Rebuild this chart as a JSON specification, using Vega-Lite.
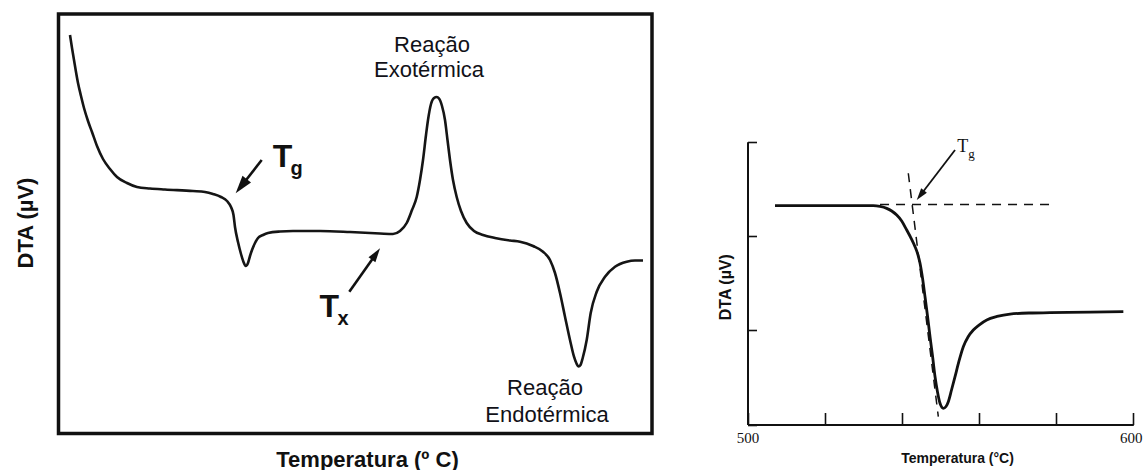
{
  "$schema": "https://vega.github.io/schema/vega-lite/v6.json",
  "width": 1086,
  "height": 420,
  "autosize": "none",
  "padding": {"left": 57, "top": 13, "right": 0, "bottom": 37},
  "background": "white",
  "config": {"view": {"stroke": null}, "axis": {"grid": false}},
  "datasets": {
    "lc": [
      {"x": 13, "y": 398}, {"x": 15, "y": 385}, {"x": 17, "y": 373}, {"x": 19, "y": 361}, {"x": 21, "y": 350},
      {"x": 24, "y": 337}, {"x": 27, "y": 325}, {"x": 31, "y": 312}, {"x": 35, "y": 301}, {"x": 40, "y": 287},
      {"x": 46, "y": 274}, {"x": 53, "y": 264}, {"x": 60, "y": 256}, {"x": 70, "y": 250}, {"x": 80, "y": 246},
      {"x": 93, "y": 244.5}, {"x": 108, "y": 243.5}, {"x": 136, "y": 242}, {"x": 148, "y": 241}, {"x": 156, "y": 239},
      {"x": 164, "y": 236}, {"x": 170, "y": 232}, {"x": 174, "y": 226}, {"x": 176.5, "y": 218}, {"x": 178, "y": 206},
      {"x": 181, "y": 191}, {"x": 184, "y": 179}, {"x": 186.5, "y": 171}, {"x": 188.7, "y": 167}, {"x": 191, "y": 170},
      {"x": 193, "y": 177}, {"x": 195, "y": 183}, {"x": 198, "y": 190}, {"x": 201, "y": 195}, {"x": 206, "y": 198},
      {"x": 211, "y": 200}, {"x": 223, "y": 201.5}, {"x": 236, "y": 202}, {"x": 263, "y": 202}, {"x": 293, "y": 201},
      {"x": 323, "y": 199.5}, {"x": 336, "y": 199}, {"x": 343, "y": 202}, {"x": 349.7, "y": 210}, {"x": 355, "y": 223},
      {"x": 359.7, "y": 236}, {"x": 363, "y": 253}, {"x": 366, "y": 273}, {"x": 369, "y": 298}, {"x": 371, "y": 313},
      {"x": 374, "y": 329}, {"x": 377, "y": 335}, {"x": 379.7, "y": 336}, {"x": 382, "y": 334.5}, {"x": 385, "y": 327},
      {"x": 388, "y": 313}, {"x": 390.5, "y": 293}, {"x": 393, "y": 273}, {"x": 396, "y": 253}, {"x": 399.7, "y": 236},
      {"x": 404, "y": 222}, {"x": 409.7, "y": 210}, {"x": 417, "y": 202}, {"x": 426, "y": 198}, {"x": 438, "y": 195},
      {"x": 453, "y": 192.5}, {"x": 463, "y": 191.3}, {"x": 476, "y": 187}, {"x": 486, "y": 181.3}, {"x": 493, "y": 173},
      {"x": 498, "y": 160}, {"x": 503, "y": 140}, {"x": 508, "y": 116.3}, {"x": 513, "y": 93}, {"x": 517, "y": 76.3},
      {"x": 519.5, "y": 69.5}, {"x": 521.5, "y": 66.5}, {"x": 523.5, "y": 68}, {"x": 525.7, "y": 75}, {"x": 529.7, "y": 93},
      {"x": 533.7, "y": 120}, {"x": 539.7, "y": 141.3}, {"x": 548, "y": 156.3}, {"x": 558, "y": 166.3}, {"x": 569.7, "y": 171.3},
      {"x": 578, "y": 172.5}, {"x": 586, "y": 172.5}
    ],
    "lf": [{"x": 1.5, "x2": 595, "y": -0.5, "y2": 419}],
    "la": [
      {"name": "Tg", "x": 204.7, "y": 273, "x2": 184.2, "y2": 246.8},
      {"name": "Tx", "x": 292.3, "y": 141.3, "x2": 319, "y2": 179}
    ],
    "lh": [
      {"name": "Tg", "x": 184.2, "y": 246.8},
      {"name": "Tx", "x": 319, "y": 179}
    ],
    "lt": [
      {"kind": "main", "text": "T", "x": 215.7, "y": 266},
      {"kind": "sub", "text": "g", "x": 233.5, "y": 258},
      {"kind": "main", "text": "T", "x": 262.5, "y": 116},
      {"kind": "sub", "text": "x", "x": 280.5, "y": 108},
      {"kind": "note", "text": "Reação", "x": 375, "y": 381.5},
      {"kind": "note", "text": "Exotérmica", "x": 372, "y": 356},
      {"kind": "note", "text": "Reação", "x": 488, "y": 38},
      {"kind": "note", "text": "Endotérmica", "x": 490, "y": 11.5}
    ],
    "rc": [
      {"x": 507.13, "y": 2.321}, {"x": 521.4, "y": 2.321}, {"x": 532.6, "y": 2.321}, {"x": 534.35, "y": 2.313},
      {"x": 536.08, "y": 2.293}, {"x": 537.38, "y": 2.265}, {"x": 538.68, "y": 2.222}, {"x": 539.97, "y": 2.159},
      {"x": 541.27, "y": 2.063}, {"x": 542.38, "y": 1.978}, {"x": 543.42, "y": 1.886}, {"x": 544.2, "y": 1.798},
      {"x": 544.72, "y": 1.71}, {"x": 545.36, "y": 1.554}, {"x": 546.01, "y": 1.356}, {"x": 546.66, "y": 1.151},
      {"x": 547.31, "y": 0.931}, {"x": 547.96, "y": 0.727}, {"x": 548.61, "y": 0.507}, {"x": 549.25, "y": 0.345},
      {"x": 549.9, "y": 0.225}, {"x": 550.76, "y": 0.172}, {"x": 551.46, "y": 0.191}, {"x": 552.05, "y": 0.242},
      {"x": 552.88, "y": 0.366}, {"x": 553.79, "y": 0.507}, {"x": 554.83, "y": 0.674}, {"x": 555.94, "y": 0.825},
      {"x": 557.16, "y": 0.928}, {"x": 558.53, "y": 1.002}, {"x": 560.01, "y": 1.055}, {"x": 562.01, "y": 1.109},
      {"x": 564.68, "y": 1.146}, {"x": 568.05, "y": 1.172}, {"x": 573.23, "y": 1.183}, {"x": 578.42, "y": 1.186},
      {"x": 588.79, "y": 1.193}, {"x": 597.42, "y": 1.197}
    ],
    "rd": [
      {"x": 534.35, "y": 2.334, "x2": 578.86, "y2": 2.334},
      {"x": 541.68, "y": 2.665, "x2": 549.46, "y2": 0.083}
    ],
    "ra": [{"x": 553.79, "y": 2.912, "x2": 544.81, "y2": 2.432}],
    "rh": [{"x": 544.81, "y": 2.432}],
    "rt": [
      {"kind": "main", "text": "T", "x": 554.39, "y": 2.887},
      {"kind": "sub", "text": "g", "x": 557.24, "y": 2.827}
    ]
  },
  "layer": [
    {
      "encoding": {
        "x": {
          "field": "x", "type": "quantitative",
          "scale": {"domain": [0, 596], "range": [0, 596], "nice": false, "zero": false},
          "axis": {
            "orient": "bottom", "title": "Temperatura (º C)", "domain": false, "ticks": false, "labels": false, "grid": false,
            "titleX": 310, "titleY": 26, "titleAlign": "center", "titleBaseline": "middle", "titleAngle": 0,
            "titleFont": "Liberation Sans", "titleFontSize": 22, "titleFontWeight": "bold", "titleColor": "#111111"
          }
        },
        "y": {
          "field": "y", "type": "quantitative",
          "scale": {"domain": [0, 420], "range": [420, 0], "nice": false, "zero": false},
          "axis": {
            "orient": "left", "title": "DTA (µV)", "domain": false, "ticks": false, "labels": false, "grid": false,
            "titleX": -31.5, "titleY": 209.5, "titleAlign": "center", "titleBaseline": "middle", "titleAngle": 270,
            "titleFont": "Liberation Sans", "titleFontSize": 22, "titleFontWeight": "bold", "titleColor": "#111111"
          }
        }
      },
      "layer": [
        {
          "data": {"name": "lf"},
          "mark": {"type": "rect", "fillOpacity": 0, "stroke": "#111111", "strokeWidth": 3.5},
          "encoding": {"x2": {"field": "x2"}, "y2": {"field": "y2"}}
        },
        {
          "data": {"name": "lc"},
          "mark": {"type": "line", "interpolate": "monotone", "color": "#151515", "strokeWidth": 2.6}
        },
        {
          "data": {"name": "la"},
          "mark": {"type": "rule", "color": "#111111", "strokeWidth": 2.6},
          "encoding": {"x2": {"field": "x2"}, "y2": {"field": "y2"}}
        },
        {
          "data": {"name": "lh"},
          "transform": [{"filter": "datum.name == 'Tg'"}],
          "mark": {"type": "point", "shape": "M0,-1L0.6,1L-0.6,1Z", "filled": true, "opacity": 1, "color": "#111111", "size": 324, "angle": 218}
        },
        {
          "data": {"name": "lh"},
          "transform": [{"filter": "datum.name == 'Tx'"}],
          "mark": {"type": "point", "shape": "M0,-1L0.6,1L-0.6,1Z", "filled": true, "opacity": 1, "color": "#111111", "size": 196, "angle": 35.3}
        },
        {
          "data": {"name": "lt"},
          "transform": [{"filter": "datum.kind == 'main'"}],
          "mark": {"type": "text", "align": "left", "baseline": "alphabetic", "font": "Liberation Sans", "fontSize": 32, "fontWeight": "bold", "color": "#111111"},
          "encoding": {"text": {"field": "text"}}
        },
        {
          "data": {"name": "lt"},
          "transform": [{"filter": "datum.kind == 'sub'"}],
          "mark": {"type": "text", "align": "left", "baseline": "alphabetic", "font": "Liberation Sans", "fontSize": 20, "fontWeight": "bold", "color": "#111111"},
          "encoding": {"text": {"field": "text"}}
        },
        {
          "data": {"name": "lt"},
          "transform": [{"filter": "datum.kind == 'note'"}],
          "mark": {"type": "text", "align": "center", "baseline": "alphabetic", "font": "Liberation Sans", "fontSize": 22, "color": "#111118"},
          "encoding": {"text": {"field": "text"}}
        }
      ]
    },
    {
      "encoding": {
        "x": {
          "field": "x", "type": "quantitative",
          "scale": {"domain": [500, 600], "range": [690.5, 1076.3], "nice": false, "zero": false},
          "axis": {
            "orient": "bottom", "offset": -8.5, "values": [500, 520, 540, 560, 580, 600],
            "domainColor": "#111111", "domainWidth": 2, "tickColor": "#111111", "tickWidth": 1.6, "tickSize": -12,
            "labelExpr": "datum.value == 500 || datum.value == 600 ? datum.label : ''",
            "labelFlush": false, "labelOverlap": false, "labelFont": "Liberation Serif", "labelFontSize": 15, "labelColor": "#111111", "labelPadding": 18,
            "labelOffset": {"condition": {"test": "datum.value == 600", "value": -2.5}, "value": 0},
            "grid": false, "title": "Temperatura (°C)",
            "titleX": 900, "titleY": 33.5, "titleAlign": "center", "titleBaseline": "middle", "titleAngle": 0,
            "titleFont": "Liberation Sans", "titleFontSize": 14, "titleFontWeight": "bold", "titleColor": "#111111"
          }
        },
        "y": {
          "field": "y", "type": "quantitative",
          "scale": {"domain": [0, 3], "range": [411.5, 128.7], "nice": false, "zero": false},
          "axis": {
            "orient": "left", "offset": -690.5, "values": [0, 1, 2, 3],
            "domainColor": "#111111", "domainWidth": 2, "tickColor": "#111111", "tickWidth": 1.6, "tickSize": -9,
            "labels": false, "grid": false, "title": "DTA (µV)",
            "titleX": -22.5, "titleY": 273.7, "titleAlign": "center", "titleBaseline": "middle", "titleAngle": 270,
            "titleFont": "Liberation Sans", "titleFontSize": 16, "titleFontWeight": "bold", "titleColor": "#111111"
          }
        }
      },
      "layer": [
        {
          "data": {"name": "rc"},
          "mark": {"type": "line", "interpolate": "monotone", "color": "#111111", "strokeWidth": 2.8}
        },
        {
          "data": {"name": "rd"},
          "mark": {"type": "rule", "color": "#111111", "strokeWidth": 1.5, "strokeDash": [9, 7]},
          "encoding": {"x2": {"field": "x2"}, "y2": {"field": "y2"}}
        },
        {
          "data": {"name": "ra"},
          "mark": {"type": "rule", "color": "#111111", "strokeWidth": 1.8},
          "encoding": {"x2": {"field": "x2"}, "y2": {"field": "y2"}}
        },
        {
          "data": {"name": "rh"},
          "mark": {"type": "point", "shape": "M0,-1L0.6,1L-0.6,1Z", "filled": true, "opacity": 1, "color": "#111111", "size": 144, "angle": 217.4}
        },
        {
          "data": {"name": "rt"},
          "transform": [{"filter": "datum.kind == 'main'"}],
          "mark": {"type": "text", "align": "left", "baseline": "alphabetic", "font": "Liberation Serif", "fontSize": 18, "color": "#111111"},
          "encoding": {"text": {"field": "text"}}
        },
        {
          "data": {"name": "rt"},
          "transform": [{"filter": "datum.kind == 'sub'"}],
          "mark": {"type": "text", "align": "left", "baseline": "alphabetic", "font": "Liberation Serif", "fontSize": 13, "color": "#111111"},
          "encoding": {"text": {"field": "text"}}
        }
      ]
    }
  ],
  "resolve": {
    "scale": {"x": "independent", "y": "independent"},
    "axis": {"x": "independent", "y": "independent"}
  }
}
